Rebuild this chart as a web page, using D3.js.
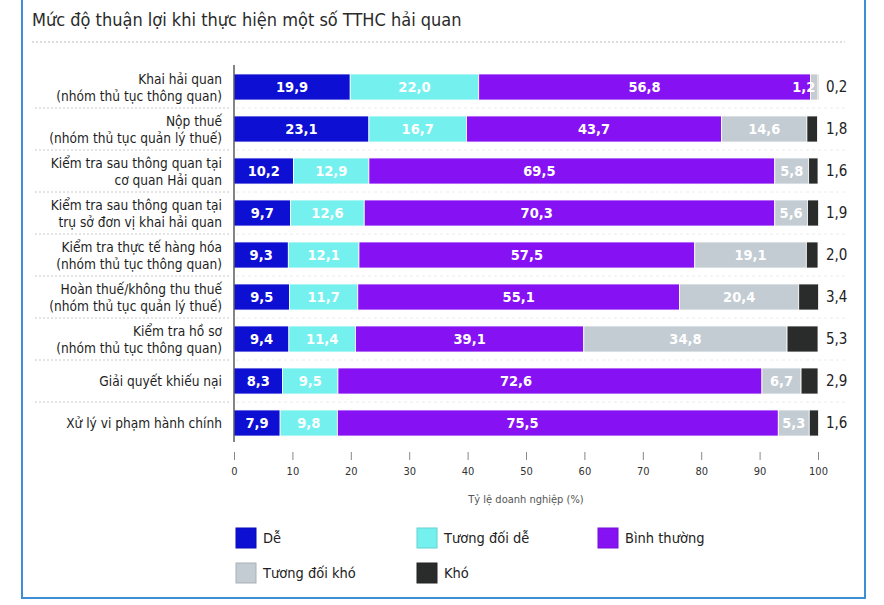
<!DOCTYPE html>
<html><head><meta charset="utf-8">
<script src="https://cdn.jsdelivr.net/npm/d3@7"></script>
<style>
html,body{margin:0;padding:0;background:#fff;}
svg{display:block;}
</style></head>
<body>
<svg id="chart" width="884" height="605"></svg>
<script>
const categories = [
  ["Khai hải quan", "(nhóm thủ tục thông quan)"],
  ["Nộp thuế", "(nhóm thủ tục quản lý thuế)"],
  ["Kiểm tra sau thông quan tại", "cơ quan Hải quan"],
  ["Kiểm tra sau thông quan tại", "trụ sở đơn vị khai hải quan"],
  ["Kiểm tra thực tế hàng hóa", "(nhóm thủ tục thông quan)"],
  ["Hoàn thuế/không thu thuế", "(nhóm thủ tục quản lý thuế)"],
  ["Kiểm tra hồ sơ", "(nhóm thủ tục thông quan)"],
  ["Giải quyết khiếu nại"],
  ["Xử lý vi phạm hành chính"]
];
const seriesNames = ["Dễ", "Tương đối dễ", "Bình thường", "Tương đối khó", "Khó"];
const de          = [19.9, 23.1, 10.2, 9.7, 9.3, 9.5, 9.4, 8.3, 7.9];
const tuongDoiDe  = [22.0, 16.7, 12.9, 12.6, 12.1, 11.7, 11.4, 9.5, 9.8];
const binhThuong  = [56.8, 43.7, 69.5, 70.3, 57.5, 55.1, 39.1, 72.6, 75.5];
const tuongDoiKho = [1.2, 14.6, 5.8, 5.6, 19.1, 20.4, 34.8, 6.7, 5.3];
const kho         = [0.2, 1.8, 1.6, 1.9, 2.0, 3.4, 5.3, 2.9, 1.6];
const xTicks = [0, 10, 20, 30, 40, 50, 60, 70, 80, 90, 100];
const title = "Mức độ thuận lợi khi thực hiện một số TTHC hải quan";
const xTitle = "Tỷ lệ doanh nghiệp (%)";

const colors = ["#0d0fd2", "#74f1ef", "#8612f3", "#c3ccd3", "#2a2b2b"];
const FONT = "'DejaVu Sans Condensed','Liberation Sans Narrow','Liberation Sans',sans-serif";

const svg = d3.select("#chart");
const fmt = v => d3.format(".1f")(v).replace(".", ",");

// frame
svg.append("rect").attr("x", 22).attr("y", -2).attr("width", 843).attr("height", 600)
  .attr("fill", "#fff").attr("stroke", "#3d8fd5").attr("stroke-width", 2);

// title
svg.append("text").attr("x", 32).attr("y", 26).text(title)
  .attr("font-family", FONT).attr("font-size", 18).attr("fill", "#2a2a2a");
svg.append("line").attr("x1", 32).attr("x2", 845).attr("y1", 42).attr("y2", 42)
  .attr("stroke", "#b9b9b9").attr("stroke-dasharray", "2,2");

const x = d3.scaleLinear().domain([0, 100]).range([234, 818]);
const y = d3.scaleBand().domain(d3.range(categories.length)).range([66, 444])
  .paddingInner(0.38).paddingOuter(0.19);

// row separators
const seps = d3.range(1, categories.length).map(i => y(i) - y.step() * y.paddingInner() / 2);
svg.append("g").selectAll("line").data(seps).join("line")
  .attr("x1", 35).attr("x2", 230).attr("y1", d => d).attr("y2", d => d)
  .attr("stroke", "#c8c8c8").attr("stroke-dasharray", "2,2");
svg.append("g").selectAll("line").data(seps).join("line")
  .attr("x1", 236).attr("x2", 845).attr("y1", d => d).attr("y2", d => d)
  .attr("stroke", "#ececec").attr("stroke-dasharray", "3,3");

// data rows
const rows = categories.map((c, i) => ({
  cat: c, i,
  vals: [de[i], tuongDoiDe[i], binhThuong[i], tuongDoiKho[i], kho[i]]
}));
const stack = d3.stack().keys([0, 1, 2, 3, 4]).value((d, k) => d.vals[k]);
const series = stack(rows);

const gBars = svg.append("g");
series.forEach((s, k) => {
  gBars.append("g").selectAll("rect").data(s).join("rect")
    .attr("x", d => x(d[0]))
    .attr("y", d => y(d.data.i))
    .attr("width", d => Math.max(1.2, x(d[1]) - x(d[0])))
    .attr("height", y.bandwidth())
    .attr("fill", colors[k])
    .attr("stroke", "#fff").attr("stroke-width", 0.8);
});

// labels inside (first 4 series)
series.slice(0, 4).forEach((s, k) => {
  gBars.append("g").selectAll("text").data(s).join("text")
    .attr("x", d => {
      const w = x(d[1]) - x(d[0]);
      if (w < 20) return x(d[1]) - 2;
      const f = (d[1] - d[0]) > 60 ? 0.42 : 0.5;
      return x(d[0]) + w * f;
    })
    .attr("text-anchor", d => (x(d[1]) - x(d[0]) < 20 ? "end" : "middle"))
    .attr("y", d => y(d.data.i) + y.bandwidth() / 2 + 5)
    .attr("font-family", FONT).attr("font-size", 14.5).attr("font-weight", "bold")
    .attr("fill", "#fff")
    .text(d => fmt(d[1] - d[0]));
});
// Khó labels outside
svg.append("g").selectAll("text").data(series[4]).join("text")
  .attr("x", 826)
  .attr("y", d => y(d.data.i) + y.bandwidth() / 2 + 5)
  .attr("font-family", FONT).attr("font-size", 15).attr("fill", "#222")
  .text(d => fmt(d[1] - d[0]));

// category labels
const gCat = svg.append("g");
rows.forEach(r => {
  const n = r.cat.length;
  const cy = y(r.i) + y.bandwidth() / 2;
  r.cat.forEach((line, j) => {
    gCat.append("text").attr("x", 222).attr("text-anchor", "end")
      .attr("y", cy + 5 + (j - (n - 1) / 2) * 17)
      .attr("font-family", FONT).attr("font-size", 13.6).attr("fill", "#1e1e1e")
      .text(line);
  });
});

// y axis line
svg.append("line").attr("x1", x(0)).attr("x2", x(0)).attr("y1", 65).attr("y2", 442)
  .attr("stroke", "#333").attr("stroke-width", 1.2);

// x axis
const xAxis = svg.append("g").attr("transform", "translate(0,452)")
  .call(d3.axisBottom(x).tickValues(xTicks).tickSize(8).tickPadding(7).tickFormat(d3.format("d")));
xAxis.select(".domain").remove();
xAxis.selectAll(".tick line").attr("stroke", "#888");
xAxis.selectAll(".tick text").attr("font-family", FONT).attr("font-size", 11).attr("fill", "#333");

svg.append("text").attr("x", (x(0) + x(100)) / 2).attr("y", 503).attr("text-anchor", "middle")
  .attr("font-family", FONT).attr("font-size", 11).attr("fill", "#555").text(xTitle);

// legend
const legPos = [[236, 528], [417, 528], [598, 528], [236, 563], [417, 563]];
const gLeg = svg.append("g");
seriesNames.forEach((name, k) => {
  const [lx, ly] = legPos[k];
  gLeg.append("rect").attr("x", lx).attr("y", ly).attr("width", 20).attr("height", 20)
    .attr("fill", colors[k]).attr("stroke", d3.color(colors[k]).darker(0.4)).attr("stroke-width", 1);
  gLeg.append("text").attr("x", lx + 27).attr("y", ly + 15)
    .attr("font-family", FONT).attr("font-size", 14.5).attr("fill", "#222").text(name);
});
</script>
</body></html>
